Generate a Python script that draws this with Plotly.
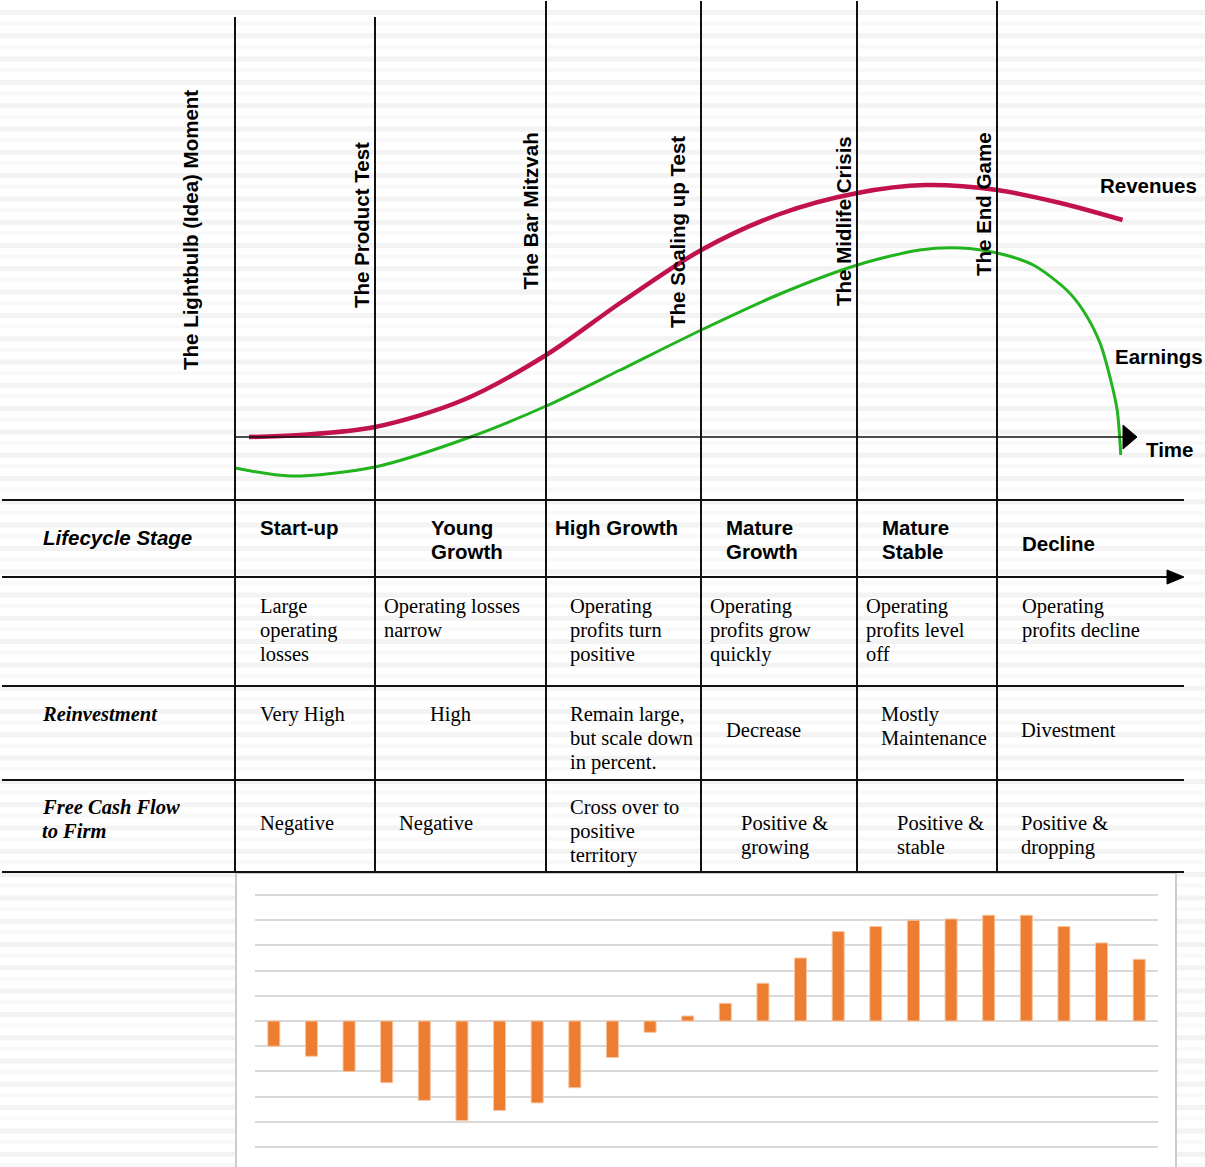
import plotly.graph_objects as go

W, H = 1205, 1167

# ---------------- data ----------------
milestones = ["The Lightbulb (Idea) Moment", "The Product Test", "The Bar Mitzvah",
              "The Scaling up Test", "The Midlife Crisis", "The End Game"]

stages = ["Start-up", "Young<br>Growth", "High Growth", "Mature<br>Growth",
          "Mature<br>Stable", "Decline"]
operating = ["Large<br>operating<br>losses", "Operating losses<br>narrow",
             "Operating<br>profits turn<br>positive", "Operating<br>profits grow<br>quickly",
             "Operating<br>profits level<br>off", "Operating<br>profits decline"]
reinvestment = ["Very High", "High", "Remain large,<br>but scale down<br>in percent.",
                "Decrease", "Mostly<br>Maintenance", "Divestment"]
fcff = ["Negative", "Negative", "Cross over to<br>positive<br>territory",
        "Positive &<br>growing", "Positive &<br>stable", "Positive &<br>dropping"]
row_labels = ["Lifecycle Stage", "Reinvestment", "Free Cash Flow<br>to Firm"]

# lifecycle curves: time (0-100) vs. level index
rev_t = [1.55, 7.2, 15.5, 25.3, 34.5, 42.7, 51.7, 60.4, 69.0, 76.5, 84.5, 91.5, 98.4]
rev_v = [0, 2, 10, 37, 82, 134, 187, 223, 244, 252, 247, 234, 217]
earn_t = [0, 6.1, 15.5, 26.1, 34.5, 42.7, 51.7, 60.4, 69.0, 75.9, 80.4, 84.5,
          88.5, 92.2, 94.0, 95.9, 97.0, 97.8, 98.2]
earn_v = [-31, -39, -30, 0, 31, 67, 107, 143, 172, 187, 189, 184,
          172, 147, 127, 94, 60, 27, -18]

# free cash flow by period
periods = list(range(1, 25))
cash_flow = [-1.0, -1.4, -2.0, -2.45, -3.15, -3.95, -3.55, -3.25, -2.65, -1.45, -0.45, 0.2,
             0.7, 1.5, 2.5, 3.55, 3.75, 4.0, 4.05, 4.2, 4.2, 3.75, 3.1, 2.45]

# ---------------- styling ----------------
SANS = "Liberation Sans, Arial, Helvetica, sans-serif"
SERIF = "Liberation Serif, Times New Roman, serif"
LINE_H = 24
REV_COLOR = "#c2124b"
EARN_COLOR = "#22b41e"
BAR_COLOR = "#ed7d31"

fig = go.Figure()

# page-level pixel axes (x, y) used for the table frame and labels
fig.add_trace(go.Scatter(x=[], y=[], xaxis="x", yaxis="y", showlegend=False, hoverinfo="skip"))

# curves on their own time/level axes
fig.add_trace(go.Scatter(x=rev_t, y=rev_v, xaxis="x2", yaxis="y2", mode="lines",
                         line=dict(color=REV_COLOR, width=4.5, shape="spline", smoothing=0.9),
                         showlegend=False, hoverinfo="skip"))
fig.add_trace(go.Scatter(x=earn_t, y=earn_v, xaxis="x2", yaxis="y2", mode="lines",
                         line=dict(color=EARN_COLOR, width=3, shape="spline", smoothing=0.8),
                         showlegend=False, hoverinfo="skip"))

# free cash flow bars
fig.add_trace(go.Bar(x=periods, y=cash_flow, xaxis="x3", yaxis="y3", width=0.32,
                     marker=dict(color=BAR_COLOR, line=dict(color="#f7c7a3", width=1)),
                     showlegend=False, hoverinfo="skip"))

shapes = []

# faint horizontal banding of the page background
k = 0
while 10 + 23.3 * k < H:
    y0 = 10 + 23.3 * k
    shapes.append(dict(type="rect", xref="x", yref="y", x0=0, x1=W, y0=y0, y1=y0 + 5,
                       fillcolor="#f3f3f3", line=dict(width=0), layer="below"))
    shapes.append(dict(type="rect", xref="x", yref="y", x0=0, x1=W, y0=y0 + 11.5, y1=y0 + 15.5,
                       fillcolor="#f9f9f9", line=dict(width=0), layer="below"))
    k += 1

# white panel behind the bar chart
shapes.append(dict(type="rect", xref="x", yref="y", x0=236, x1=1176, y0=873, y1=H + 2,
                   fillcolor="white", line=dict(color="#cccccc", width=2), layer="below"))

# stage boundaries
col_x = [235, 375, 546, 701, 857, 997]
col_top = [17, 17, 1, 1, 1, 1]
for cx, top in zip(col_x, col_top):
    shapes.append(dict(type="line", xref="x", yref="y", x0=cx, x1=cx, y0=top, y1=872,
                       line=dict(color="#111111", width=2)))

# table rules
for ry, x_end in [(500, 1184), (577, 1170), (686, 1184), (780, 1184), (872, 1184)]:
    shapes.append(dict(type="line", xref="x", yref="y", x0=2, x1=x_end, y0=ry, y1=ry,
                       line=dict(color="#111111", width=2)))
shapes.append(dict(type="path", xref="x", yref="y", path="M 1167 570 L 1184 577 L 1167 584 Z",
                   fillcolor="black", line=dict(color="black", width=1)))

# time axis
shapes.append(dict(type="line", xref="x", yref="y", x0=235, x1=1125, y0=437, y1=437,
                   line=dict(color="#111111", width=1.5)))
shapes.append(dict(type="path", xref="x", yref="y", path="M 1123 425 L 1137 437 L 1123 449 Z",
                   fillcolor="black", line=dict(color="black", width=1)))

fig.update_layout(shapes=shapes)


def add_text(x, y, text, family, size=20.5, bold=False, italic=False):
    for i, line in enumerate(text.split("<br>")):
        s = line
        if italic:
            s = f"<i>{s}</i>"
        if bold:
            s = f"<b>{s}</b>"
        fig.add_annotation(x=x - 1, y=y + i * LINE_H, xref="x", yref="y", text=s,
                           showarrow=False, xanchor="left", yanchor="middle",
                           font=dict(family=family, size=size, color="black"))


# milestone labels (rotated)
ms_x = [190, 361, 530, 677, 843, 983]
ms_bottom = [372, 310, 292, 330, 308, 278]
for name, mx, mb in zip(milestones, ms_x, ms_bottom):
    fig.add_annotation(x=mx, y=mb, xref="x", yref="y", text=f"<b>{name}</b>", showarrow=False,
                       textangle=-90, xanchor="center", yanchor="bottom",
                       font=dict(family=SANS, size=20.5, color="black"))

# curve labels
add_text(1099, 185, "Revenues", SANS, bold=True)
add_text(1114, 356, "Earnings", SANS, bold=True)
add_text(1145, 449, "Time", SANS, bold=True)

# row headings
add_text(42, 537, row_labels[0], SANS, bold=True, italic=True)
add_text(41, 714, row_labels[1], SERIF, bold=True, italic=True)
add_text(41, 807, row_labels[2], SERIF, bold=True, italic=True)

# table body
stage_x = [259, 430, 554, 725, 881, 1021]
stage_y = [527, 527, 527, 527, 527, 543]
for txt, tx, ty in zip(stages, stage_x, stage_y):
    add_text(tx, ty, txt, SANS, bold=True)

op_x = [259, 383, 569, 709, 865, 1021]
for txt, tx in zip(operating, op_x):
    add_text(tx, 606, txt, SERIF)

re_x = [259, 429, 569, 725, 880, 1020]
re_y = [714, 714, 714, 730, 714, 730]
for txt, tx, ty in zip(reinvestment, re_x, re_y):
    add_text(tx, ty, txt, SERIF)

fc_x = [259, 398, 569, 740, 896, 1020]
fc_y = [823, 823, 807, 823, 823, 823]
for txt, tx, ty in zip(fcff, fc_x, fc_y):
    add_text(tx, ty, txt, SERIF)

hidden = dict(visible=False, fixedrange=True)
fig.update_layout(
    width=W, height=H, autosize=False,
    margin=dict(l=0, r=0, t=0, b=0, pad=0),
    paper_bgcolor="white", plot_bgcolor="rgba(0,0,0,0)",
    showlegend=False,
    xaxis=dict(range=[0, W], domain=[0, 1], **hidden),
    yaxis=dict(range=[H, 0], domain=[0, 1], **hidden),
    # time axis: t=0 at the start-up boundary, t=100 at the arrow tip
    xaxis2=dict(range=[0, 100], domain=[235 / W, 1137 / W], anchor="y2", **hidden),
    yaxis2=dict(range=[-50, 300], domain=[1 - 487 / H, 1 - 137 / H], anchor="x2", **hidden),
    xaxis3=dict(range=[0.5, 24.5], domain=[255 / W, 1158 / W], anchor="y3", **hidden),
    yaxis3=dict(range=[-5.1, 5.1], domain=[1 - 1149.5 / H, 1 - 892.5 / H], anchor="x3",
                showgrid=True, gridcolor="#d9d9d9", gridwidth=1.5, dtick=1, tick0=0,
                zeroline=True, zerolinecolor="#d9d9d9", zerolinewidth=1.5,
                showticklabels=False, showline=False, ticks="", fixedrange=True),
    bargap=0.68,
)

fig.write_html("out.html", config={"displayModeBar": False})
